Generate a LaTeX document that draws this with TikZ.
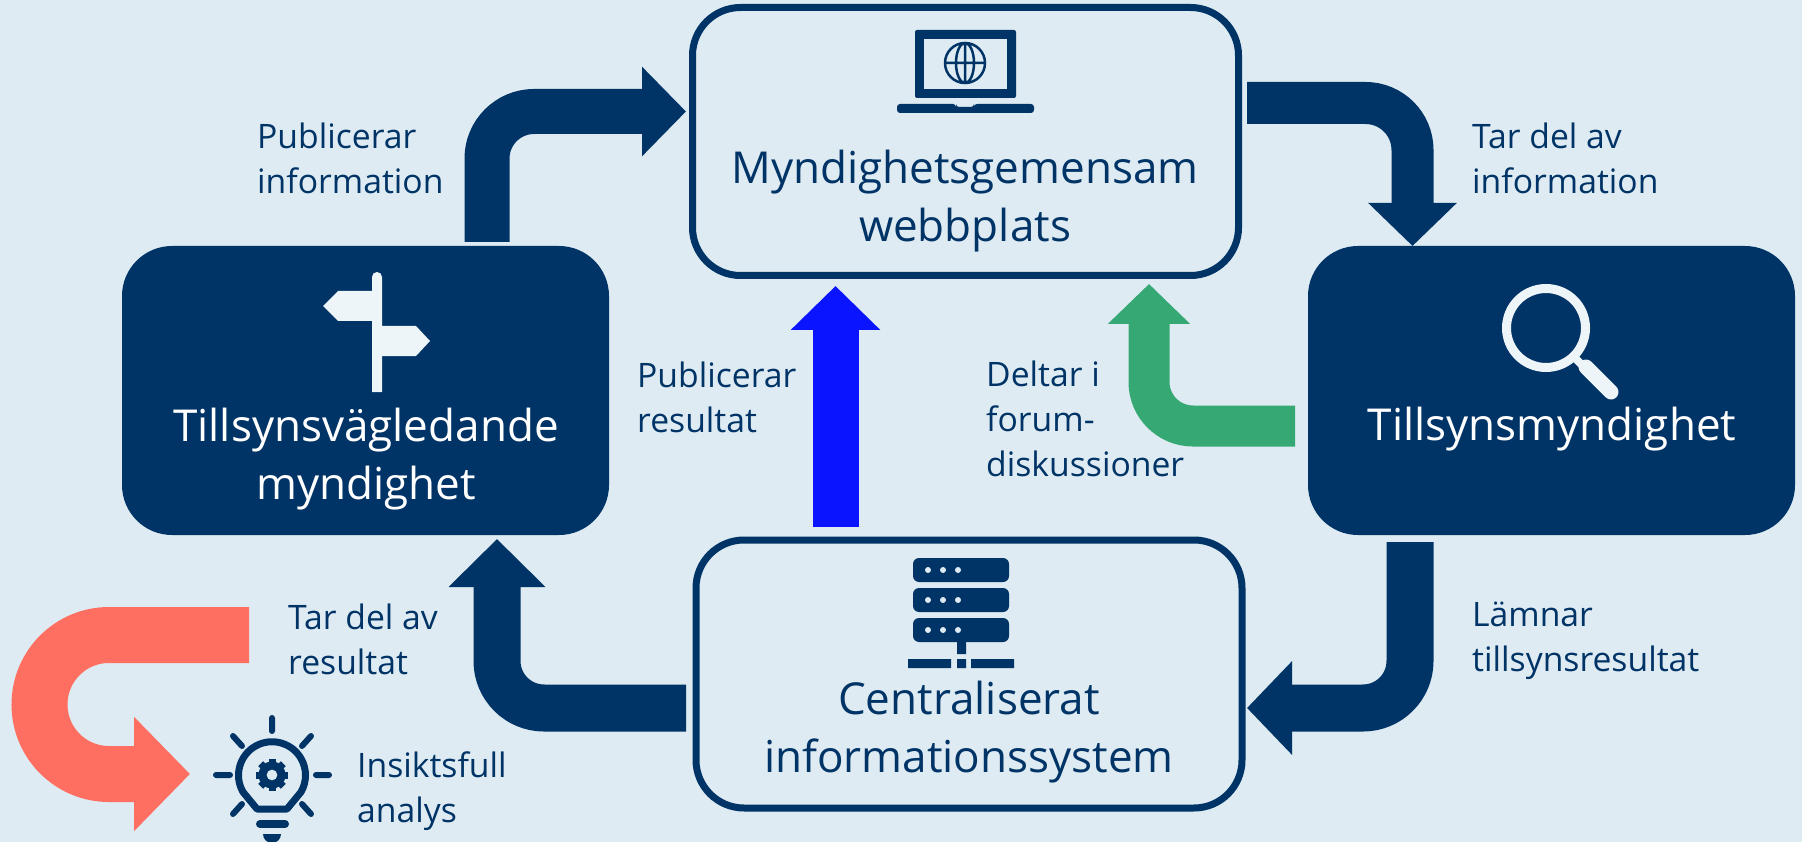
\documentclass[tikz,border=0pt]{standalone}
\usepackage{fontspec}
\setmainfont{Open Sans}
\usetikzlibrary{arrows.meta}
\definecolor{bgblue}{HTML}{DEEBF2}
\definecolor{navy}{HTML}{003366}
\definecolor{pale}{HTML}{EEF5F9}
\definecolor{vivid}{HTML}{0A14FF}
\definecolor{leaf}{HTML}{36A873}
\definecolor{coral}{HTML}{FF6F61}
\begin{document}
\begin{tikzpicture}[x=1pt,y=-1pt,
	whitebox/.style={rectangle,draw=navy,line width=7pt,fill=bgblue,rounded corners=48pt,inner sep=0pt},
	darkbox/.style={rectangle,fill=navy,rounded corners=50pt,inner sep=0pt,minimum width=487pt,minimum height=289pt},
	title/.style={inner sep=0pt,align=center,font=\fontsize{44}{57.5}\selectfont},
	lbl/.style={inner sep=0pt,anchor=west,align=left,text=navy,font=\fontsize{33.7}{45}\selectfont},
	conn/.style={line width=#1,rounded corners=47pt,navy},
	conn/.default=45pt,
	ray/.style={navy,line width=6pt,line cap=round}]
\fill[bgblue](0,0) rectangle (1802,842);
\useasboundingbox (0,0) rectangle (1802,842);
\node[whitebox,minimum width=546pt,minimum height=268pt](web) at (965.5,141.5){};
\node[darkbox](guide) at (365.5,390.5){};
\node[darkbox](auth) at (1551.5,390.5){};
\node[whitebox,minimum width=546pt,minimum height=268pt](sys) at (969,674){};
\node[title,text=navy](webtxt) at (965,201){Myndighetsgemensam\\webbplats};
\node[title,text=white](guidetxt) at (366,459){Tillsynsvägledande\\myndighet};
\node[title,text=white](authtxt) at (1552,429){Tillsynsmyndighet};
\node[title,text=navy](systxt) at (969,732){Centraliserat\\informationssystem};
\node[lbl](pubinfo) at (257,158){Publicerar\\information};
\node[lbl](takeinfo) at (1472,158){Tar del av\\information};
\node[lbl](pubres) at (637,397){Publicerar\\resultat};
\node[lbl](forum) at (986,419){Deltar i\\forum-\\diskussioner};
\node[lbl](takeres) at (288,639){Tar del av\\resultat};
\node[lbl](submit) at (1472,641){Lämnar\\tillsynsresultat};
\node[lbl](insight) at (357,791){Insiktsfull\\analys};
\coordinate (guideout) at (487,242);
\coordinate (webin) at (686,111.5);
\coordinate (webout) at (1247,103);
\coordinate (authin) at (1412.5,246);
\coordinate (authout) at (1410,542);
\coordinate (sysin) at (1247,708);
\coordinate (sysout) at (686,708);
\coordinate (guidein) at (497,539);
\coordinate (sysup) at (835.5,527);
\coordinate (webup) at (835.5,286);
\coordinate (authleft) at (1295,426);
\coordinate (webgreen) at (1149,284);
\coordinate (redstart) at (249,635);
\coordinate (redtop) at (109,635);
\coordinate (redtip) at (190,774);
\draw[conn,-{Triangle[length=44pt,width=87pt]}](guideout) |- (webin);
\draw[conn=42pt,-{Triangle[length=43pt,width=86pt]}](webout) -| (authin);
\draw[conn=47pt,-{Triangle[length=45pt,width=91pt]}](authout) |- (sysin);
\draw[conn=47pt,-{Triangle[length=48pt,width=94pt]}](sysout) -| (guidein);
\draw[line width=46pt,vivid,-{Triangle[length=44pt,width=87pt]}](sysup) -- (webup);
\draw[line width=41pt,leaf,rounded corners=44pt,-{Triangle[length=40pt,width=80pt]}](authleft) -| (webgreen);
\draw[line width=56pt,coral,-{Triangle[length=56pt,width=111pt]}](redstart) -- (redtop) arc[start angle=90,end angle=270,radius=69.5pt] -- (redtip);
\fill[navy,rounded corners=2pt](915,98) -- (915,30) -- (1016,30) -- (1016,98) -- cycle;
\fill[bgblue](924,39) rectangle (1007,89);
\fill[navy,rounded corners=3pt](897,104) -- (956,104) -- (956,107) -- (974,107) -- (974,104) -- (1034,104) -- (1034,113) -- (897,113) -- cycle;
\draw[navy,line width=2.5pt](965,63) circle (20pt) (965,43) -- (965,83) (945,63) -- (985,63) (965,63) ellipse (9pt and 20pt);
\foreach \yy in {558,588,618}{
	\fill[navy,rounded corners=6pt](913,\yy) rectangle (1009,\yy+24);
	\foreach \xx in {928,943,958}
		\fill[bgblue](\xx,\yy+12) circle (3pt);
}
\fill[navy](957,642) rectangle (966,654) (908,659) rectangle (951,668) (957,659) rectangle (966,668) (971,659) rectangle (1014,668);
\fill[pale](338,291) -- (372,291) -- (372,277) arc[start angle=180,end angle=0,radius=5pt] -- (382,326) -- (416,326) -- (430,341) -- (416,356) -- (382,356) -- (382,392) -- (372,392) -- (372,321) -- (338,321) -- (323,306) -- cycle;
\draw[pale,line width=9pt](1546,328) circle (39.5pt);
\draw[pale,line width=8pt](1574,357) -- (1590,373);
\draw[pale,line width=15pt,line cap=round](1586,367) -- (1611,392);
\draw[ray](272,718) -- (272,731) (216,775) -- (230,775) (316,775) -- (329,775) (233,736) -- (242,746) (311,736) -- (302,746) (233,814) -- (242,804) (311,814) -- (302,804);
\draw[navy,line width=7pt,line join=round](257,809) -- (243,792) arc[start angle=210,end angle=-30,radius=33.5pt] -- (287,809) -- cycle;
\draw[navy,line width=8pt,line cap=round](260,824) -- (285,824);
\fill[navy](263,834) -- (281,834) arc[start angle=0,end angle=-180,radius=9pt] -- cycle;
\foreach \aa in {0,45,...,315}
	\fill[navy,rotate around={\aa:(272,775)}](268.5,759) rectangle (275.5,767);
\fill[navy,even odd rule](272,775) circle (13.5pt) (272,775) circle (5.5pt);
\end{tikzpicture}
\end{document}
